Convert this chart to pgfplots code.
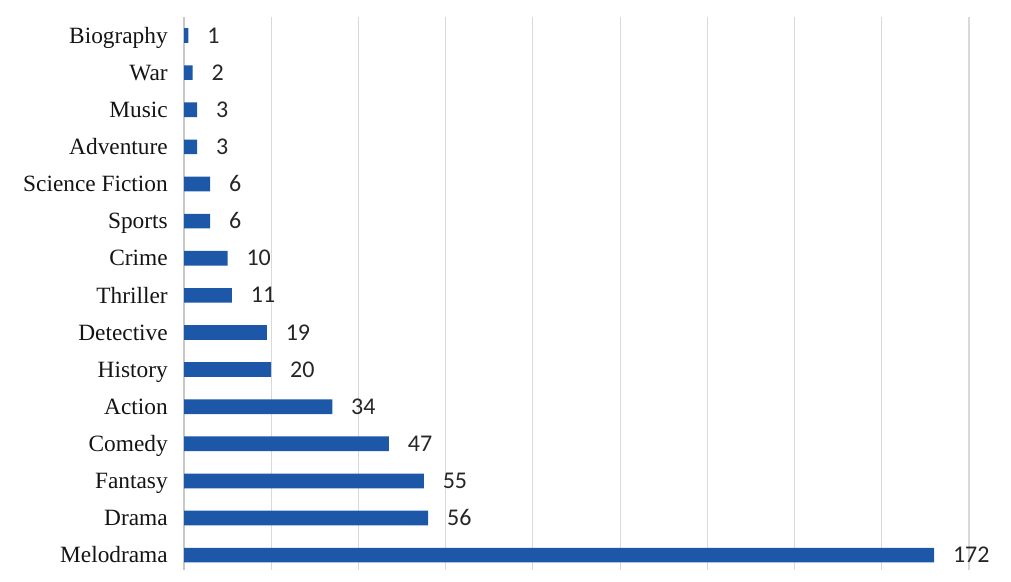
\documentclass[border=0pt]{standalone}
\usepackage{fontspec}
\setmainfont{Liberation Serif}
\newfontfamily\calibri{Carlito}
\usepackage{pgfplots}
\pgfplotsset{compat=1.18}
\definecolor{barblue}{RGB}{28,87,168}
\definecolor{gridgray}{RGB}{217,217,217}
\definecolor{axgray}{RGB}{200,200,200}
\begin{document}
\begin{tikzpicture}
\path[use as bounding box] (0,0) rectangle (758.25pt,436.5pt);
\begin{axis}[
  at={(138pt,9pt)}, anchor=south west,
  scale only axis,
  width=588.75pt, height=414.75pt,
  xbar, bar width=11pt,
  xmin=0, xmax=180,
  ymin=-0.4, ymax=14.5,
  xtick={0,20,...,180},
  xticklabels={},
  xmajorgrids,
  grid style={gridgray, line width=0.8pt},
  ytick={0,...,14},
  yticklabels={Melodrama,Drama,Fantasy,Comedy,Action,History,Detective,Thriller,Crime,Sports,Science Fiction,Adventure,Music,War,Biography},
  yticklabel style={font=\fontsize{17.5}{20}\selectfont, text=black!92, inner sep=0pt, anchor=base east, xshift=-12pt, yshift=-5.8pt},
  major tick length=0pt,
  axis x line*=bottom,
  x axis line style={draw=none},
  axis y line*=left,
  y axis line style={axgray, line width=0.8pt, -},
  nodes near coords={\calibri\pgfmathprintnumber[assume math mode=true]{\pgfplotspointmeta}},
  every node near coord/.append style={font=\calibri\fontsize{18}{20}\selectfont, text=black!85, anchor=base west, inner sep=0pt, xshift=14pt, yshift=-5.7pt},
  clip=false,
]
\addplot[fill=barblue, draw=none] coordinates {
(172,0) (56,1) (55,2) (47,3) (34,4) (20,5) (19,6) (11,7) (10,8) (6,9) (6,10) (3,11) (3,12) (2,13) (1,14)
};
\end{axis}
\end{tikzpicture}
\end{document}
